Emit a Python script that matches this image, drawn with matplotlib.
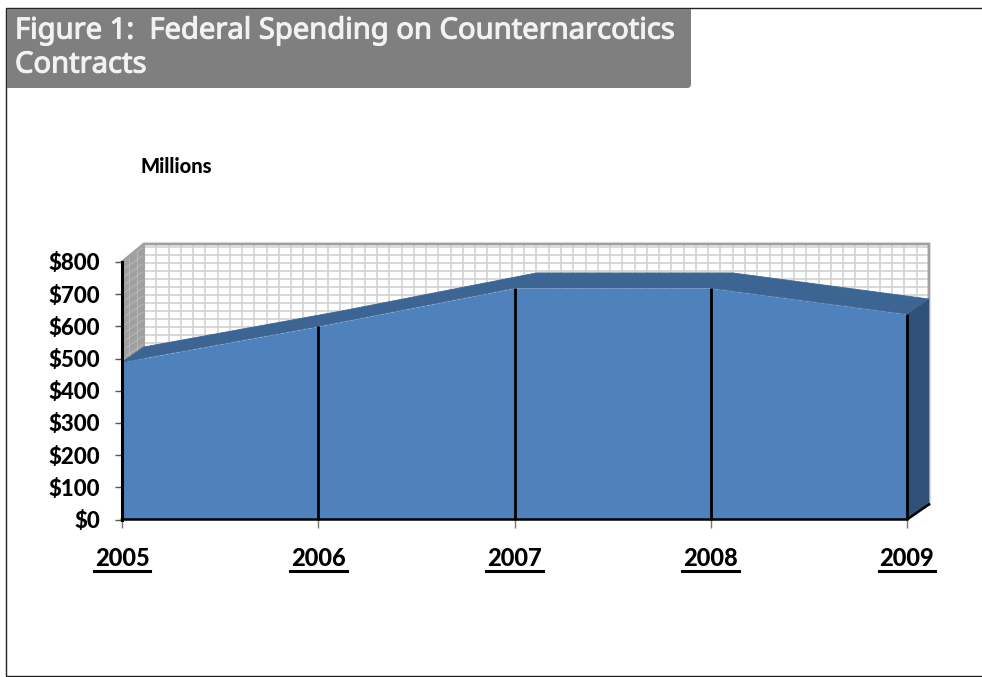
"""Federal spending on counternarcotics contracts, drawn as a pseudo-3D area chart."""
import numpy as np
import matplotlib
matplotlib.use("Agg")
import matplotlib.pyplot as plt
import matplotlib.patheffects as pe
from matplotlib.lines import Line2D
from matplotlib.patches import FancyBboxPatch, Rectangle

years = [2005, 2006, 2007, 2008, 2009]
spending = [489, 600, 719, 719, 638]
y_ticks = [0, 100, 200, 300, 400, 500, 600, 700, 800]
y_labels = ["$0", "$100", "$200", "$300", "$400", "$500", "$600", "$700", "$800"]
title_lines = ["Figure 1:  Federal Spending on Counternarcotics", "Contracts"]

# depth of the fake 3D box, in data units
DX = 0.112
DY = 47
WALL_TOP = 856

W, H = 982, 677
FRONT = "#4f81bd"
TOP = "#3d6594"
SIDE = "#2f5078"
GRID = "#d2d2d2"
WALL = "#a0a0a0"
WALL_GRID = "#b8b8b8"
FRAME = "#a0a0a0"

fig = plt.figure(figsize=(W / 100, H / 100), dpi=100, facecolor="white")
ax = fig.add_axes([122 / W, 1 - 519.5 / H, 785 / W, 257.5 / H])
ax.set_xlim(2005, 2009)
ax.set_ylim(0, 800)
ax.patch.set_visible(False)
for s in ax.spines.values():
    s.set_visible(False)

# back wall grid
for x in np.linspace(2005, 2009, 65):
    ax.plot([x + DX, x + DX], [DY, WALL_TOP], color=GRID, lw=1.2, zorder=1, clip_on=False)
for y in np.arange(0, 801, 25):
    ax.plot([2005 + DX, 2009 + DX], [y + DY, y + DY], color=GRID, lw=1.2, zorder=1, clip_on=False)

# left wall with its own slanted grid
ax.fill([2005, 2005 + DX, 2005 + DX, 2005], [0, DY, WALL_TOP, 800],
        color=WALL, lw=0, zorder=2, clip_on=False)
for y in np.arange(0, 801, 25):
    ax.plot([2005, 2005 + DX], [y, y + DY], color=WALL_GRID, lw=0.7, zorder=2, clip_on=False)
for f in (1 / 3, 2 / 3):
    ax.plot([2005 + DX * f] * 2, [DY * f, 800 + (WALL_TOP - 800) * f], color=WALL_GRID, lw=0.7,
            zorder=2, clip_on=False)

# wall outline
ax.plot([2005, 2005 + DX, 2009 + DX, 2009 + DX], [800, WALL_TOP, WALL_TOP, DY],
        color=FRAME, lw=2, zorder=3, clip_on=False, solid_joinstyle="miter")
ax.plot([2005 + DX] * 2, [DY, WALL_TOP], color=FRAME, lw=1.5, zorder=3, clip_on=False)

# area: top face, side face, then the front
top_x = years + [y + DX for y in years[::-1]]
top_y = spending + [v + DY for v in spending[::-1]]
ax.fill(top_x, top_y, fc=TOP, ec=TOP, lw=0.6, zorder=4, clip_on=False)
ax.fill([years[-1], years[-1] + DX, years[-1] + DX, years[-1]],
        [0, DY, spending[-1] + DY, spending[-1]], color=SIDE, lw=0, zorder=4, clip_on=False)
ax.fill_between(years, 0, spending, color=FRONT, lw=0, zorder=5)

# drop lines and axis lines
ax.vlines(years[1:], 0, spending[1:], color="black", lw=2, zorder=6, clip_on=False)
ax.plot([2005, 2005], [0, 800], color="black", lw=2.2, zorder=6, clip_on=False)
ax.plot([2005, 2009, 2009 + DX], [0, 0, DY], color="black", lw=1.8, zorder=6, clip_on=False)

ax.set_xticks(years)
ax.set_xticklabels(years, fontsize=17, fontweight="black", family="Lato")
ax.set_yticks(y_ticks)
ax.set_yticklabels(y_labels, fontsize=16, fontweight="black", family="Lato")
ax.tick_params(axis="y", length=5, width=1, color="#555555", pad=11)
ax.tick_params(axis="x", length=6, width=1, color="#777777", pad=14)

# title banner and page frame
fig.add_artist(Rectangle((6 / W, 1 - 676 / H), 990 / W, 668 / H, transform=fig.transFigure,
                         fill=False, ec="#222222", lw=1))
banner = FancyBboxPatch((7, H - 88), 684, 79, boxstyle="round,pad=0,rounding_size=4",
                        transform=None, fc="#7f7f7f", ec="none", zorder=2)
fig.add_artist(banner)
fig.add_artist(Rectangle((7, H - 88), 100, 79, transform=None, fc="#7f7f7f", ec="none", zorder=2))
fig.add_artist(Rectangle((7, H - 16), 684, 7, transform=None, fc="#7f7f7f", ec="none", zorder=2))
for i, line in enumerate(title_lines):
    # the installed Noto Sans only gives the regular weight, so thicken it with a stroke
    fig.text(15 / W, 1 - (31 + i * 34) / H, line, color="#f2f2f2", fontsize=21,
             family="Noto Sans", va="center", ha="left", zorder=3,
             path_effects=[pe.withStroke(linewidth=0.8, foreground="#f2f2f2")])

fig.text(140 / W, 1 - 166 / H, "Millions", fontsize=14.5, fontweight="black", family="Lato",
         va="center", ha="left")

# matplotlib has no underlined text, so rule under each year label
fig.canvas.draw()
for lab in ax.get_xticklabels():
    bb = lab.get_window_extent()
    fig.add_artist(Line2D([bb.x0 - 1, bb.x1 + 1], [bb.y0 - 1, bb.y0 - 1], transform=None,
                          color="black", lw=2.2))

fig.savefig("out.png", dpi=100)
